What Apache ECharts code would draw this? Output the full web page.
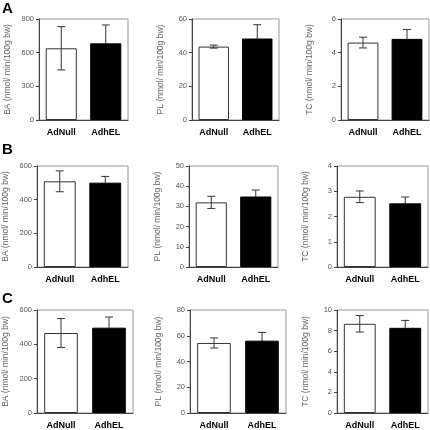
<!DOCTYPE html>
<html>
<head>
<meta charset="utf-8">
<script src="https://cdn.jsdelivr.net/npm/echarts@6/dist/echarts.min.js"></script>
<style>html,body{margin:0;padding:0;background:#fff}#c{width:430px;height:430px}</style>
</head>
<body>
<div id="c"></div>
<script>
// ---- data ----
var categories = ['AdNull', 'AdhEL'];
var panelLetters = ['A', 'B', 'C'];
var yNames = ['BA (nmol/ min/100g bw)', 'PL (nmol/ min/100g bw)', 'TC (nmol/ min/100g bw)'];

var baA = [639, 683],   baAErr = [193, 164];
var plA = [43.6, 48.4], plAErr = [0.9, 8.2];
var tcA = [4.6, 4.82],  tcAErr = [0.32, 0.56];

var baB = [509, 501],   baBErr = [62, 37];
var plB = [32, 34.9],   plBErr = [3, 3.2];
var tcB = [2.78, 2.52], tcBErr = [0.23, 0.25];

var baC = [466, 497],   baCErr = [84, 62];
var plC = [54.4, 56.2], plCErr = [3.9, 6.4];
var tcC = [8.66, 8.27], tcCErr = [0.8, 0.72];

var yMax = [[900, 60, 6], [600, 50, 4], [600, 80, 10]];
var yStep = [[300, 20, 2], [200, 10, 1], [200, 20, 2]];

var values = [[baA, plA, tcA], [baB, plB, tcB], [baC, plC, tcC]];
var errors = [[baAErr, plAErr, tcAErr], [baBErr, plBErr, tcBErr], [baCErr, plCErr, tcCErr]];

// ---- layout ----
var grids = [
  [39, 19, 89, 101], [192, 19, 87, 101], [341, 19, 88, 101],
  [36, 166, 92, 101], [189, 166, 89, 101], [337, 166, 91, 101],
  [37, 310, 96, 103], [190, 310, 96, 103], [337, 310, 91, 103]
];
var letterTops = [1, 142, 291];

var chart = echarts.init(document.getElementById('c'), null, {renderer: 'canvas'});
var option = {
  animation: false,
  backgroundColor: '#fff',
  grid: [], xAxis: [], yAxis: [], series: [],
  graphic: panelLetters.map(function (L, i) {
    return {type: 'text', left: 2, top: letterTops[i],
      style: {text: L, font: 'bold 15px "Liberation Sans", Arial, sans-serif', fill: '#000'}};
  })
};

for (var r = 0; r < 3; r++) {
  for (var c = 0; c < 3; c++) {
    var k = r * 3 + c;
    var g = grids[k];
    option.grid.push({left: g[0], top: g[1], width: g[2], height: g[3],
      show: true, borderColor: '#999', borderWidth: 1, backgroundColor: '#fff'});
    option.xAxis.push({type: 'category', gridIndex: k, data: categories,
      axisLine: {lineStyle: {color: '#444', width: 1}},
      axisTick: {show: false},
      axisLabel: {fontFamily: '"Liberation Sans", Arial, sans-serif', fontWeight: 'bold', fontSize: 9, color: '#000', margin: 8}
    });
    option.yAxis.push({type: 'value', gridIndex: k, min: 0, max: yMax[r][c], interval: yStep[r][c],
      name: yNames[c], nameLocation: 'middle', nameGap: 27,
      nameTextStyle: {fontFamily: '"Liberation Sans", Arial, sans-serif', fontSize: 8.5, color: '#666'},
      axisLine: {show: true, lineStyle: {color: '#444', width: 1}},
      axisTick: {show: true, length: 3, lineStyle: {color: '#444'}},
      splitLine: {show: false},
      axisLabel: {fontFamily: '"Liberation Sans", Arial, sans-serif', fontSize: 7.5, color: '#555', margin: 5}
    });
    var vals = values[r][c];
    option.series.push({type: 'bar', xAxisIndex: k, yAxisIndex: k, barWidth: '70%',
      data: vals.map(function (v, i) {
        return {value: v, itemStyle: i === 0
          ? {color: '#fff', borderColor: '#333', borderWidth: 1}
          : {color: '#000', borderColor: '#000', borderWidth: 1}};
      })
    });
    (function (vals, errs) {
      option.series.push({type: 'custom', xAxisIndex: k, yAxisIndex: k, z: 5,
        data: vals.map(function (v, i) { return [i, v, errs[i]]; }),
        renderItem: function (params, api) {
          var x = api.value(0), v = api.value(1), e = api.value(2);
          var hi = api.coord([x, v + e]);
          var lo = api.coord([x, v - e]);
          var cw = 4;
          var st = {stroke: '#333', lineWidth: 1};
          var inner = {stroke: x === 1 ? '#000' : '#333', lineWidth: 1};
          var top = api.coord([x, v]);
          return {type: 'group', children: [
            {type: 'line', shape: {x1: hi[0], y1: hi[1], x2: top[0], y2: top[1]}, style: st},
            {type: 'line', shape: {x1: top[0], y1: top[1], x2: lo[0], y2: lo[1]}, style: inner},
            {type: 'line', shape: {x1: hi[0] - cw, y1: hi[1], x2: hi[0] + cw, y2: hi[1]}, style: st},
            {type: 'line', shape: {x1: lo[0] - cw, y1: lo[1], x2: lo[0] + cw, y2: lo[1]}, style: inner}
          ]};
        }
      });
    })(vals, errors[r][c]);
  }
}
chart.setOption(option);
</script>
</body>
</html>
